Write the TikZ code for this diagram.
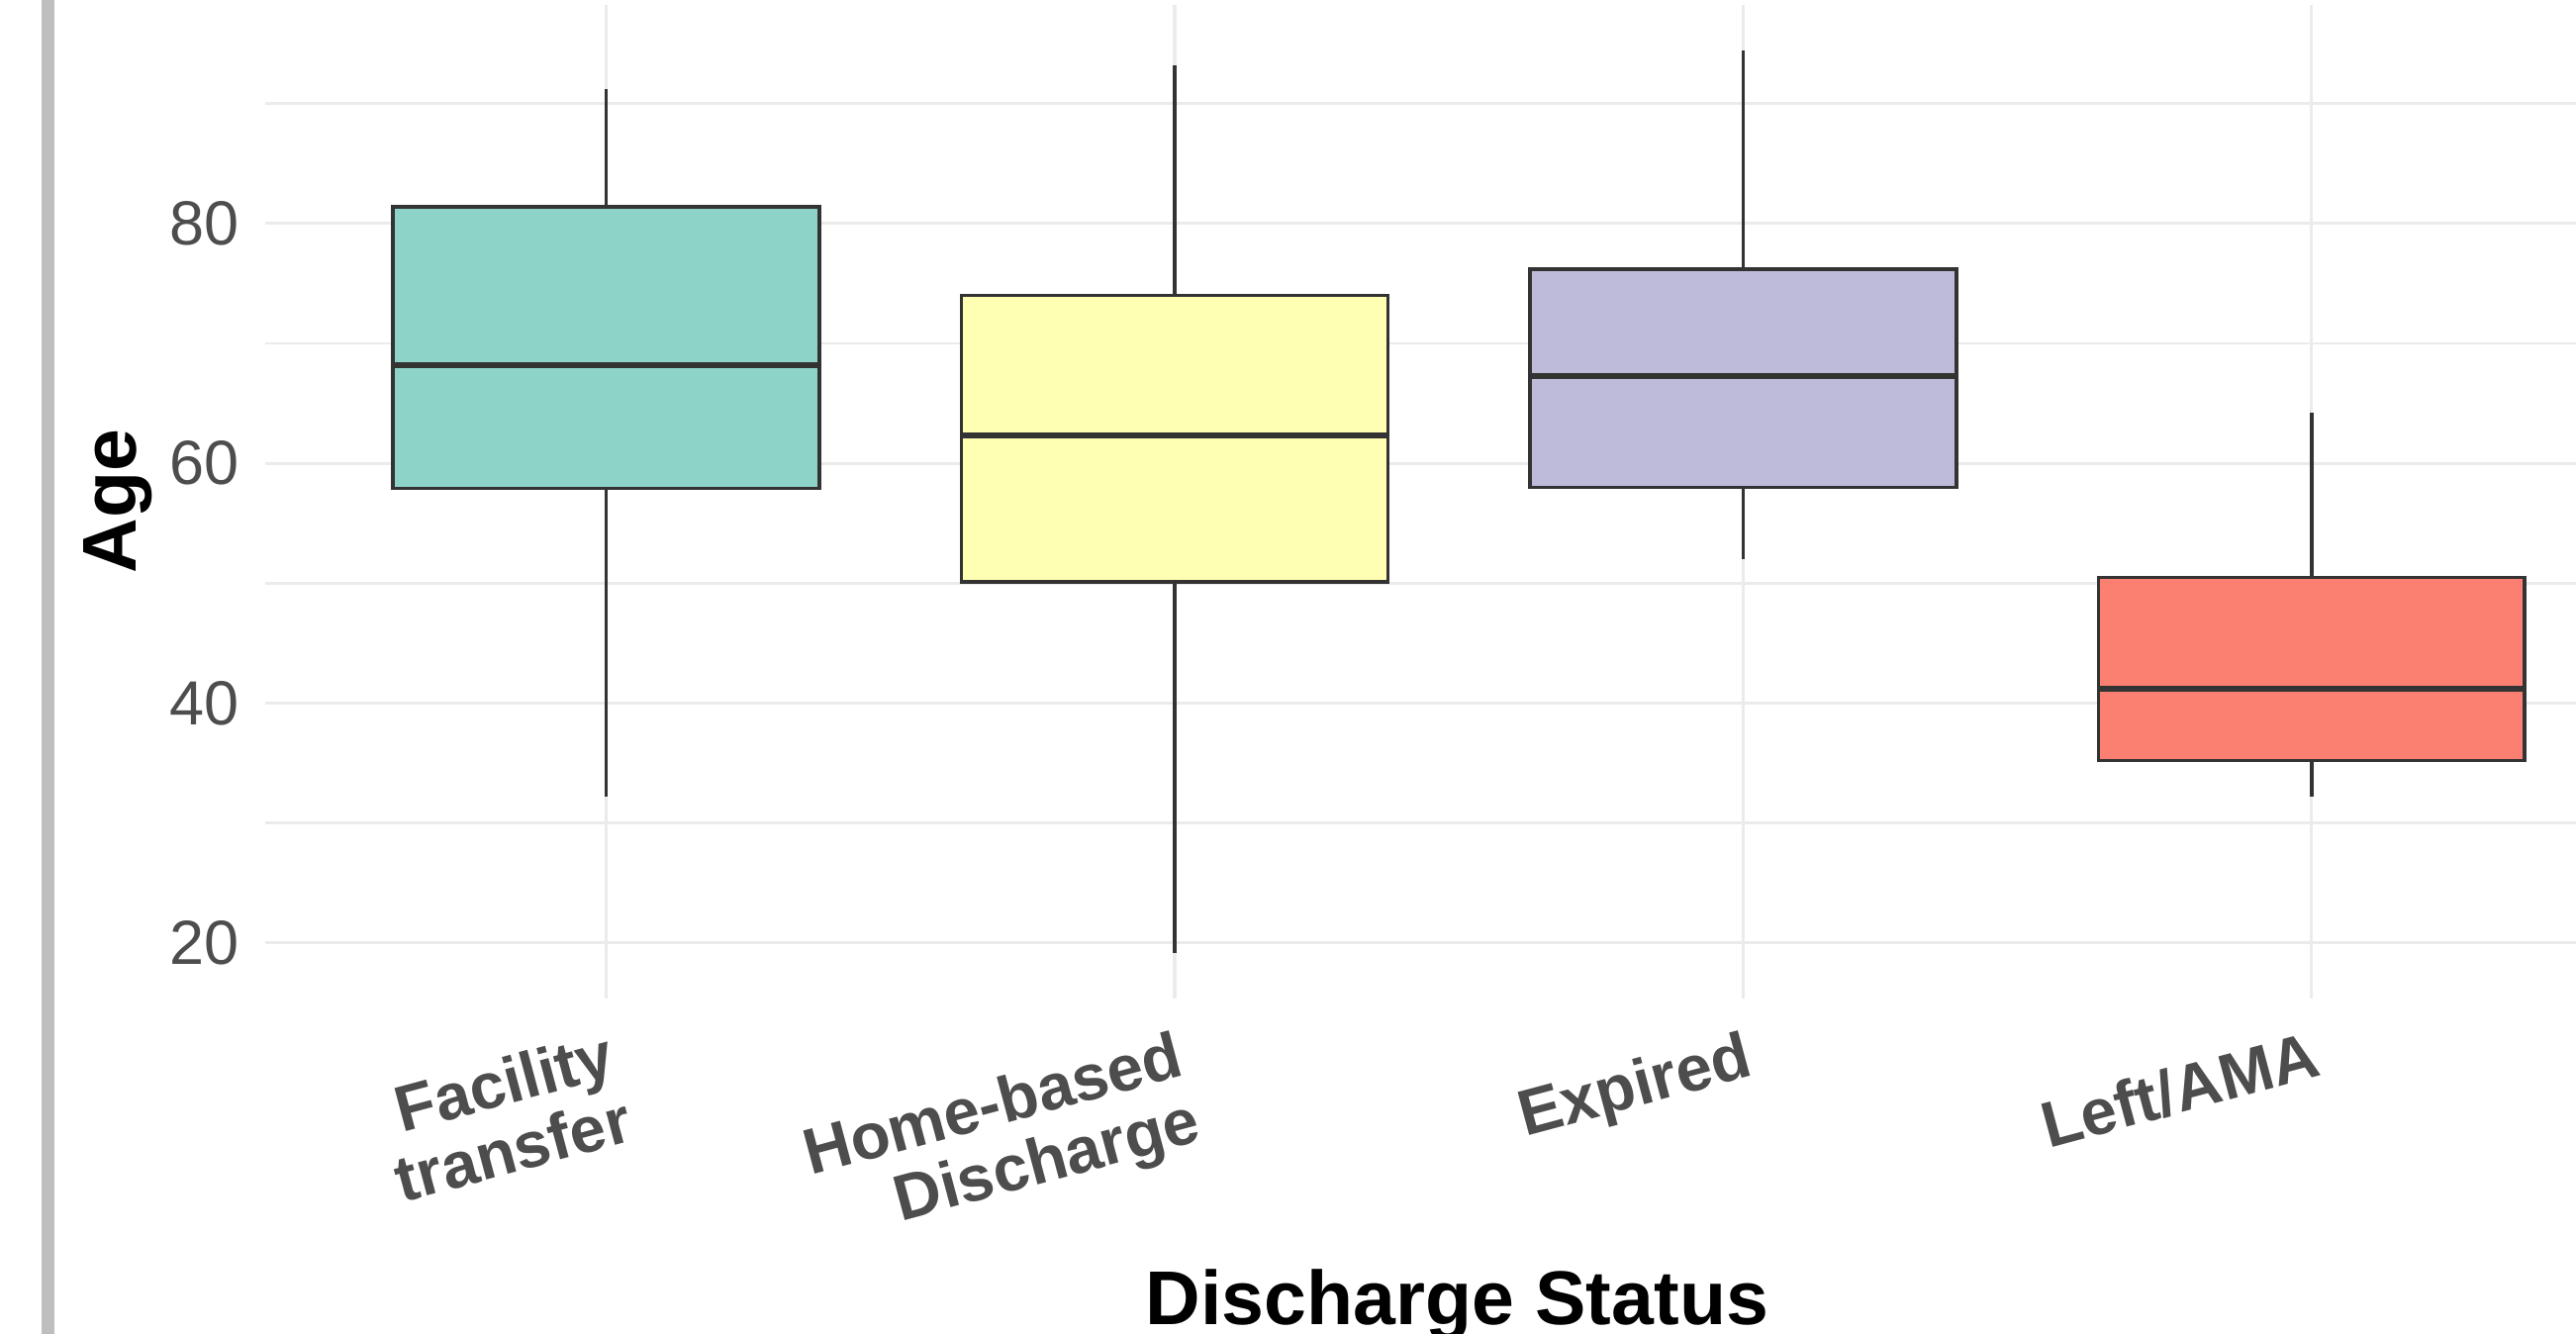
\documentclass[tikz,border=0pt]{standalone}
\usepackage{fontspec}
\setmainfont{Liberation Sans}

\definecolor{transfercol}{HTML}{8DD3C7}
\definecolor{homecol}{HTML}{FFFFB3}
\definecolor{expiredcol}{HTML}{BEBADA}
\definecolor{leftcol}{HTML}{FB8072}
\definecolor{edgegray}{HTML}{333333}
\definecolor{gridgray}{HTML}{EBEBEB}
\definecolor{ticktext}{HTML}{4D4D4D}
\definecolor{sidebar}{HTML}{BEBEBE}

\begin{document}
\begin{tikzpicture}[
      majorgrid/.style={draw=gridgray, line width=0.55pt},
      minorgrid/.style={draw=gridgray, line width=0.45pt},
      box/.style={draw=edgegray, line width=0.6pt},
      whisker/.style={draw=edgegray, line width=0.6pt},
      median/.style={draw=edgegray, line width=1pt},
      ticklab/.style={text=ticktext, inner sep=0pt,
        font=\fontsize{10.8}{11.7}\selectfont},
      catlab/.style={text=ticktext, inner sep=0pt, align=right, rotate=15,
        anchor=north east, font=\fontsize{11.2}{11.7}\selectfont\bfseries},
      axtitle/.style={inner sep=0pt, font=\fontsize{13.2}{15}\selectfont\bfseries}
    ]
    \path[use as bounding box, clip] (0,0) rectangle (15.68,8.12);
    \fill[sidebar] (0.25,0) rectangle (0.33,8.12);

    % panel in data units: x = category, y = age
    \begin{scope}[shift={(0.23,0.92)}, x=3.46cm, y=0.073cm]
      \foreach \a in {30,50,70,90}
        \draw[minorgrid] (0.4,\a) -- (4.6,\a);
      \foreach \a in {20,40,60,80}
        \draw[majorgrid] (0.4,\a) -- (4.6,\a);
      \foreach \i in {1,...,4}
        \draw[majorgrid] (\i,15.4) -- (\i,98.2);

      \foreach \i/\lo/\qa/\md/\qb/\hi/\col in {
          1/32.2/57.9/68.2/81.4/91.2/transfercol,
          2/19.2/50.1/62.3/74.0/93.2/homecol,
          3/52.0/58.0/67.3/76.2/94.4/expiredcol,
          4/32.2/35.2/41.2/50.5/64.2/leftcol}{
        \draw[whisker] (\i,\qb) -- (\i,\hi);
        \draw[whisker] (\i,\qa) -- (\i,\lo);
        \filldraw[box, fill=\col] (\i-0.375,\qa) rectangle (\i+0.375,\qb);
        \draw[median] (\i-0.375,\md) -- (\i+0.375,\md);
      }

      \node[ticklab, anchor=east] (y20) at ([xshift=-0.15cm]0.4,20) {20};
      \node[ticklab, anchor=east] (y40) at ([xshift=-0.15cm]0.4,40) {40};
      \node[ticklab, anchor=east] (y60) at ([xshift=-0.15cm]0.4,60) {60};
      \node[ticklab, anchor=east] (y80) at ([xshift=-0.15cm]0.4,80) {80};
    \end{scope}

    \node[catlab] (transfer) at (3.69,1.86) {Facility\\transfer};
    \node[catlab] (home) at (7.15,1.86) {Home-based\\Discharge};
    \node[catlab] (expired) at (10.61,1.86) {Expired};
    \node[catlab] (left) at (14.07,1.86) {Left/AMA};

    \node[axtitle, rotate=90] (agetitle) at (0.72,5.07) {Age};
    \node[axtitle, anchor=base] (xtitle) at (8.87,0.06) {Discharge Status};
  \end{tikzpicture}
\end{document}
